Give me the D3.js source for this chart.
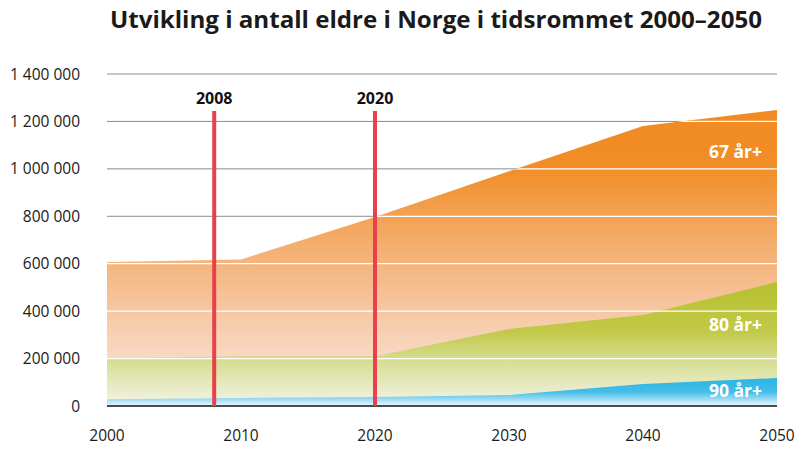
<!DOCTYPE html>
<html>
<head>
<meta charset="utf-8">
<script src="https://cdn.jsdelivr.net/npm/d3@7"></script>
<style>
  html, body { margin: 0; padding: 0; background: #fff; }
  svg { display: block; }
</style>
</head>
<body>
<svg id="chart" width="800" height="450"></svg>
<script>
// ---- Data ----
const years = [2000, 2010, 2020, 2030, 2040, 2050];
const age67 = [607000, 618000, 797000, 990000, 1181000, 1248000];
const age80 = [201000, 210000, 210000, 325000, 384000, 523000];
const age90 = [28000, 34000, 38000, 46000, 93000, 118000];
const yTicks = [0, 200000, 400000, 600000, 800000, 1000000, 1200000, 1400000];
const xTicks = [2000, 2010, 2020, 2030, 2040, 2050];
const markerYears = [2008, 2020];
const seriesLabels = ["67 år+", "80 år+", "90 år+"];
const title = "Utvikling i antall eldre i Norge i tidsrommet 2000–2050";

(function () {
// ---- Layout ----
const svg = d3.select("#chart");
const pLeft = 107, pRight = 777, pTop = 74, pBottom = 406;
const x = d3.scaleLinear().domain([2000, 2050]).range([pLeft, pRight]);
const y = d3.scaleLinear().domain([0, 1400000]).range([pBottom, pTop]);

const fmt = v => d3.format(",")(v).replace(/,/g, " ");

// ---- Gradients ----
const defs = svg.append("defs");
function grad(id, y1, y2, stops) {
  const g = defs.append("linearGradient").attr("id", id)
    .attr("gradientUnits", "userSpaceOnUse")
    .attr("x1", 0).attr("x2", 0).attr("y1", y1).attr("y2", y2);
  stops.forEach(([o, c]) => g.append("stop").attr("offset", o).attr("stop-color", c));
}
grad("g67", y(1250000), pBottom, [[0, "#f18a21"], [0.2, "#f18e28"], [0.5, "#f4b37a"], [0.8, "#f7d5bb"], [1, "#faeadc"]]);
grad("g80", y(523000), pBottom, [[0, "#b6c12f"], [0.4, "#c2c948"], [0.62, "#d5dc8e"], [1, "#f4f5e8"]]);
grad("g90", y(118000), pBottom, [[0, "#29b4e5"], [0.5, "#45bde9"], [1, "#eef8fc"]]);

// ---- Title ----
svg.append("text")
  .attr("x", 436).attr("y", 28)
  .attr("text-anchor", "middle")
  .attr("font-family", "'Open Sans', sans-serif")
  .attr("font-weight", "bold")
  .attr("font-size", 24)
  .attr("fill", "#1a1a1a")
  .attr("textLength", 652).attr("lengthAdjust", "spacingAndGlyphs")
  .text(title);

// ---- Gray gridlines ----
svg.append("g").selectAll("line").data(yTicks.filter(d => d > 0)).join("line")
  .attr("x1", pLeft).attr("x2", pRight)
  .attr("y1", d => y(d)).attr("y2", d => y(d))
  .attr("stroke", "#8c8c8c").attr("stroke-width", 1);

// ---- Areas ----
const area = vals => d3.area()
  .x((d, i) => x(years[i]))
  .y0(y(0))
  .y1((d, i) => y(vals[i]))(vals);

defs.append("clipPath").attr("id", "clip67").append("path").attr("d", area(age67));

svg.append("path").attr("d", area(age67)).attr("fill", "url(#g67)");
svg.append("path").attr("d", area(age80)).attr("fill", "url(#g80)");
svg.append("path").attr("d", area(age90)).attr("fill", "url(#g90)");

// ---- White gridlines inside areas ----
svg.append("g").attr("clip-path", "url(#clip67)")
  .selectAll("line").data(yTicks.filter(d => d > 0)).join("line")
  .attr("x1", pLeft).attr("x2", pRight)
  .attr("y1", d => y(d)).attr("y2", d => y(d))
  .attr("stroke", "#ffffff").attr("stroke-width", 1.3);

// ---- Y axis labels ----
svg.append("g").selectAll("text").data(yTicks).join("text")
  .attr("x", 80).attr("y", d => y(d) + 5.5)
  .attr("text-anchor", "end")
  .attr("font-family", "'Open Sans', sans-serif")
  .attr("font-size", 15.5)
  .attr("fill", "#1a1a1a")
  .text(d => fmt(d));

// ---- X axis ----
svg.append("line")
  .attr("x1", pLeft).attr("x2", pRight)
  .attr("y1", pBottom).attr("y2", pBottom)
  .attr("stroke", "#111").attr("stroke-width", 1.5);

svg.append("g").selectAll("text").data(xTicks).join("text")
  .attr("x", d => x(d)).attr("y", 441)
  .attr("text-anchor", "middle")
  .attr("font-family", "'Liberation Sans Narrow', 'Open Sans', sans-serif")
  .attr("font-size", 15.5)
  .attr("fill", "#1a1a1a")
  .text(d => d);

// ---- Marker lines ----
svg.append("g").selectAll("line").data(markerYears).join("line")
  .attr("x1", d => x(d)).attr("x2", d => x(d))
  .attr("y1", 111).attr("y2", pBottom)
  .attr("stroke", "#e8414d").attr("stroke-width", 4);

svg.append("g").selectAll("text").data(markerYears).join("text")
  .attr("x", d => x(d)).attr("y", 104)
  .attr("text-anchor", "middle")
  .attr("font-family", "'Open Sans', sans-serif")
  .attr("font-weight", "bold")
  .attr("font-size", 16)
  .attr("fill", "#111")
  .text(d => d);

// ---- Series labels ----
const labelY = [158, 331, 397];
svg.append("g").selectAll("text").data(seriesLabels).join("text")
  .attr("x", 762).attr("y", (d, i) => labelY[i])
  .attr("text-anchor", "end")
  .attr("font-family", "'Open Sans', sans-serif")
  .attr("font-weight", "bold")
  .attr("font-size", 17.5)
  .attr("fill", "#ffffff")
  .text(d => d);
})();
</script>
</body>
</html>
